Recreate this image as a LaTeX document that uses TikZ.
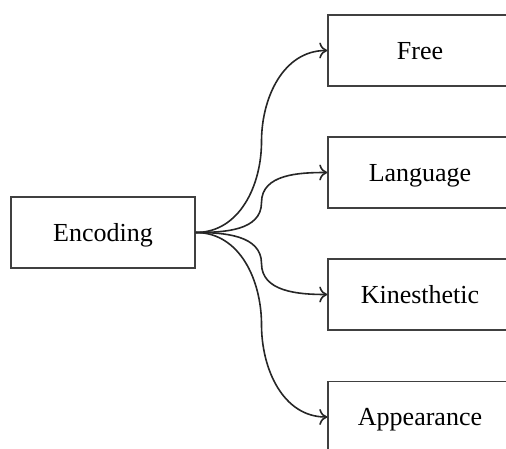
\documentclass[tikz,border=0pt]{standalone}
\usepackage{fontspec}
\setmainfont{Liberation Serif}
\usetikzlibrary{arrows.meta,calc}

\begin{document}
\begin{tikzpicture}[x=0.5pt,y=-0.5pt,font=\fontsize{13}{15}\selectfont]
%\draw[help lines] (0,0) grid (506,448);
\tikzset{
  box/.style={draw=black!75, line width=0.75pt, minimum width=92pt, minimum height=35.5pt, inner sep=0pt, text depth=-1.5pt},
  link/.style={draw=black!85, line width=0.8pt, -{To[length=4pt,width=8pt]}}
}
\clip (0,0) rectangle (506,448);
\node (enc) [box] at (103,232.5) {Encoding};
\node (free) [box] at (420,50.5) {Free};
\node (lang) [box] at (420,172.5) {Language};
\node (kin) [box] at (420,294.5) {Kinesthetic};
\node (app) [box] at (420,417) {Appearance};
\draw[link] (enc.east) to[out=0,in=-90] ($(enc.east)!0.5!(free.west)$) to[out=90,in=180] (free.west);
\draw[link] (enc.east) to[out=0,in=-90] ($(enc.east)!0.5!(lang.west)$) to[out=90,in=180] (lang.west);
\draw[link] (enc.east) to[out=0,in=90] ($(enc.east)!0.5!(kin.west)$) to[out=-90,in=180] (kin.west);
\draw[link] (enc.east) to[out=0,in=90] ($(enc.east)!0.5!(app.west)$) to[out=-90,in=180] (app.west);
\end{tikzpicture}
\end{document}
